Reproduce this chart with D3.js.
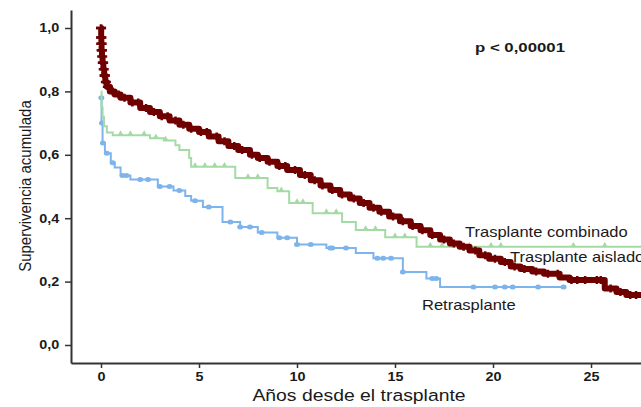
<!DOCTYPE html>
<html>
<head>
<meta charset="utf-8">
<script src="https://cdn.jsdelivr.net/npm/d3@7"></script>
<style>
  body { margin: 0; background: #fff; }
  svg { display: block; font-family: "Liberation Sans", Arial, sans-serif; }
</style>
</head>
<body>
<svg width="641" height="407"></svg>
<script>
// Kaplan-Meier curves: years since transplant vs cumulative survival
var aisladoT = [0, 0.01, 0.02, 0.03, 0.05, 0.08, 0.12, 0.16, 0.22, 0.3, 0.45, 0.7, 1.0, 1.5, 2.0, 2.5, 3.0, 3.5, 4.0, 4.5,
    5.0, 5.5, 6.0, 6.5, 7.0, 7.6, 8.0, 8.5, 9.0, 9.5, 10.15, 10.7, 11.2, 11.7, 12.2, 12.7, 13.2, 13.7, 14.2, 14.7,
    15.25, 15.8, 16.3, 16.8, 17.3, 17.8, 18.3, 18.8, 19.3, 19.8, 20.4, 20.9, 21.4, 22.0, 22.6, 23.4, 23.9, 25.7,
    26.3, 26.8, 27.55];
var aisladoS = [1.0, 0.97, 0.95, 0.93, 0.91, 0.89, 0.87, 0.85, 0.83, 0.815, 0.80, 0.79, 0.78, 0.765, 0.748, 0.735, 0.722, 0.708, 0.695, 0.682,
    0.672, 0.658, 0.643, 0.628, 0.615, 0.60, 0.59, 0.578, 0.565, 0.552, 0.536, 0.52, 0.503, 0.489, 0.475, 0.462, 0.448, 0.433, 0.42, 0.405,
    0.39, 0.375, 0.362, 0.347, 0.333, 0.32, 0.31, 0.298, 0.283, 0.272, 0.262, 0.248, 0.24, 0.232, 0.225, 0.213, 0.205, 0.178,
    0.167, 0.158, 0.158];
var aisladoCens = [0, 0.005, 0.01, 0.015, 0.02, 0.025, 0.035, 0.045, 0.06, 0.09, 0.11, 0.14, 0.18, 0.2, 0.25, 0.35,
    0.6, 0.9, 1.2, 1.6, 1.9, 2.3, 2.7, 3.1, 3.4, 3.8, 4.2, 4.6, 5.1, 5.4, 5.9, 6.3, 6.8, 7.2, 7.7, 8.1, 8.6, 9.1,
    9.4, 9.9, 10.4, 10.9, 11.3, 11.8, 12.3, 12.9, 13.4, 13.9, 14.3, 14.9, 15.4, 15.9, 16.4, 16.9, 17.5, 18.0, 18.5,
    19.1, 19.6, 20.1, 20.6, 21.1, 21.6, 22.2, 22.8, 23.3, 24.0, 24.3, 24.7, 25.3, 25.5, 26.0, 26.5, 27.0, 27.3];

var combinadoT = [0, 0.03, 0.08, 0.15, 0.3, 0.6, 2.5, 3.2, 3.8, 4.0, 4.5, 4.6, 6.85, 8.5, 9.0, 9.6, 10.8, 12.3, 13.0, 14.5, 16.1, 27.55];
var combinadoS = [0.80, 0.75, 0.72, 0.69, 0.67, 0.662, 0.652, 0.645, 0.63, 0.615, 0.59, 0.562, 0.527, 0.495, 0.485, 0.448, 0.416, 0.388, 0.363, 0.34, 0.31, 0.31];
var combinadoCens = [1.0, 1.5, 2.2, 2.8, 3.3, 4.8, 5.3, 5.8, 6.3, 7.5, 8.0, 9.2, 10.0, 10.3, 11.5, 12.0, 13.5, 14.0,
    15.0, 15.5, 16.8, 17.4, 18.8, 19.9, 20.4, 24.1, 25.7];

var retrasT = [0, 0.03, 0.08, 0.2, 0.5, 0.7, 1.0, 1.5, 2.9, 3.7, 4.3, 4.6, 5.2, 6.2, 7.1, 8.0, 9.0, 10.0, 11.5, 13.0, 13.9, 15.4, 16.6, 17.3, 23.6];
var retrasS = [0.78, 0.70, 0.637, 0.605, 0.575, 0.56, 0.535, 0.522, 0.50, 0.487, 0.47, 0.455, 0.435, 0.388, 0.372, 0.355, 0.338, 0.317, 0.306, 0.29, 0.274, 0.23, 0.21, 0.183, 0.183];
var retrasCens = [0.02, 0.05, 0.1, 0.3, 0.6, 1.1, 1.3, 2.0, 2.4, 3.0, 3.5, 4.0, 4.8, 5.5, 6.6, 7.1, 7.6, 8.2, 9.1, 9.5,
    10.0, 10.7, 11.7, 11.8, 12.5, 14.1, 14.4, 14.8, 15.4, 16.9, 17.1, 19.0, 20.1, 20.6, 21.0, 22.3, 23.6];

var xTicks = [0, 5, 10, 15, 20, 25];
var yTicks = [0, 0.2, 0.4, 0.6, 0.8, 1.0];

var svg = d3.select("svg");

var x = d3.scaleLinear().domain([-1.53, 27.55]).range([71, 641]);
var y = d3.scaleLinear().domain([-0.0568, 1.0568]).range([363, 10]);

var fmt = function(d) { return d3.format(".1f")(d).replace(".", ","); };

// axes
var gy = svg.append("g")
    .attr("transform", "translate(" + x.range()[0] + ",0)")
    .call(d3.axisLeft(y).tickValues(yTicks).tickFormat(fmt).tickSize(6).tickSizeOuter(0));
var gx = svg.append("g")
    .attr("transform", "translate(0," + y.range()[0] + ")")
    .call(d3.axisBottom(x).tickValues(xTicks).tickSize(5).tickSizeOuter(0).tickPadding(4.5));

[gx, gy].forEach(function(g) {
    g.select(".domain").attr("stroke", "#333").attr("stroke-width", 2);
    g.selectAll(".tick line").attr("stroke", "#333").attr("stroke-width", 1.5);
    g.selectAll(".tick text")
        .attr("fill", "#1a1a1a")
        .style("font-family", "'Liberation Sans', Arial, sans-serif")
        .style("font-size", "12px")
        .style("font-weight", "bold")
        .attr("transform", "scale(1.2,1)");
});
gy.selectAll(".tick text").attr("x", -9.7);

function stepAt(T, S, t) {
    var i = d3.bisectRight(T, t) - 1;
    return S[Math.max(0, i)];
}

var line = d3.line()
    .curve(d3.curveStepAfter)
    .x(function(d) { return x(d[0]); })
    .y(function(d) { return y(d[1]); });

var plot = svg.append("g");

// retrasplante (blue)
plot.append("path")
    .datum(d3.zip(retrasT, retrasS))
    .attr("fill", "none")
    .attr("stroke", "#7db4eb")
    .attr("stroke-width", 2)
    .attr("d", line);
plot.selectAll(".cb")
    .data(retrasCens)
    .enter().append("ellipse")
    .attr("class", "cb")
    .attr("cx", function(d) { return x(d); })
    .attr("cy", function(d) { return y(stepAt(retrasT, retrasS, d)); })
    .attr("rx", 3)
    .attr("ry", 2.5)
    .attr("fill", "#7db4eb");

// trasplante combinado (green)
plot.append("path")
    .datum(d3.zip(combinadoT, combinadoS))
    .attr("fill", "none")
    .attr("stroke", "#a4daa4")
    .attr("stroke-width", 2)
    .attr("d", line);
plot.selectAll(".cg")
    .data(combinadoCens)
    .enter().append("path")
    .attr("class", "cg")
    .attr("transform", function(d) {
        return "translate(" + x(d) + "," + (y(stepAt(combinadoT, combinadoS, d)) - 1.5) + ")";
    })
    .attr("d", d3.symbol().type(d3.symbolTriangle).size(14))
    .attr("fill", "#a4daa4");

// trasplante aislado (dark red), drawn as a thick band with censor crosses
plot.append("path")
    .datum(d3.zip(aisladoT, aisladoS))
    .attr("fill", "none")
    .attr("stroke", "#700000")
    .attr("stroke-width", 6)
    .attr("stroke-linejoin", "round")
    .attr("d", line);
plot.selectAll(".cr")
    .data(aisladoCens)
    .enter().append("path")
    .attr("class", "cr")
    .attr("transform", function(d) {
        return "translate(" + x(d) + "," + y(stepAt(aisladoT, aisladoS, d)) + ")";
    })
    .attr("d", function(d) { return d < 0.5 ? "M-5,0H5M0,-3.5V3.5" : "M-3.5,0H3.5M0,-4V4"; })
    .attr("stroke", "#700000")
    .attr("stroke-width", 2.5);

// texts
function label(txt, px, py, size, k, weight, anchor) {
    return svg.append("text")
        .attr("transform", "translate(" + px + "," + py + ") scale(" + k + ",1)")
        .attr("text-anchor", anchor || "start")
        .style("font-size", size + "px")
        .style("font-weight", weight || "normal")
        .attr("fill", "#1a1a1a")
        .text(txt);
}

label("p < 0,00001", 475, 52, 13, 1.29, "bold");
label("Trasplante combinado", 465, 237, 14, 1.18);
label("Trasplante aislado", 510, 262, 14, 1.18);
label("Retrasplante", 422, 310, 14, 1.18);
label("Años desde el trasplante", 359, 401, 17, 1.14, "normal", "middle");

svg.append("text")
    .attr("transform", "translate(31,186) scale(1.12,1) rotate(-90)")
    .attr("text-anchor", "middle")
    .style("font-size", "15px")
    .attr("fill", "#1a1a1a")
    .text("Supervivencia acumulada");
</script>
</body>
</html>
